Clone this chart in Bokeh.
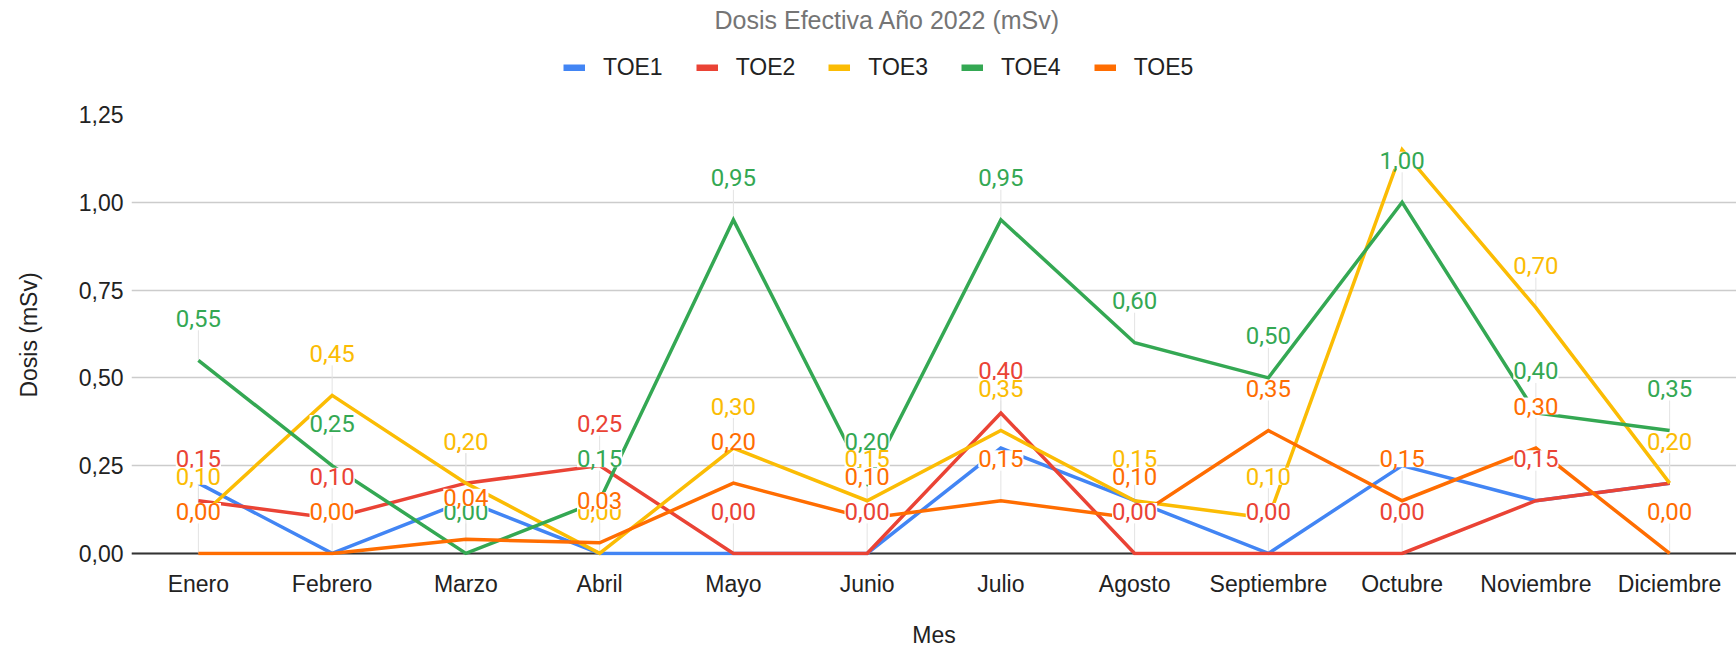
import math
from bokeh.plotting import figure
from bokeh.layouts import column
from bokeh.models import (FactorRange, Range1d, FixedTicker, CustomJSTickFormatter,
                          Legend, LegendItem, Span, ColumnDataSource, Label)
from bokeh.core.properties import value
from bokeh.embed import file_html
from bokeh.resources import INLINE

title_text = "Dosis Efectiva Año 2022 (mSv)"
x_label = "Mes"
y_label = "Dosis (mSv)"

months = ["Enero", "Febrero", "Marzo", "Abril", "Mayo", "Junio", "Julio",
          "Agosto", "Septiembre", "Octubre", "Noviembre", "Diciembre"]

toe1 = [0.20, 0.00, 0.15, 0.00, 0.00, 0.00, 0.30, 0.15, 0.00, 0.25, 0.15, 0.20]
toe2 = [0.15, 0.10, 0.20, 0.25, 0.00, 0.00, 0.40, 0.00, 0.00, 0.00, 0.15, 0.20]
toe3 = [0.10, 0.45, 0.20, 0.00, 0.30, 0.15, 0.35, 0.15, 0.10, 1.15, 0.70, 0.20]
toe4 = [0.55, 0.25, 0.00, 0.15, 0.95, 0.20, 0.95, 0.60, 0.50, 1.00, 0.40, 0.35]
toe5 = [0.00, 0.00, 0.04, 0.03, 0.20, 0.10, 0.15, 0.10, 0.35, 0.15, 0.30, 0.00]

series_names = ["TOE1", "TOE2", "TOE3", "TOE4", "TOE5"]
series_values = [toe1, toe2, toe3, toe4, toe5]
colors = ["#4285F4", "#EA4335", "#FBBC04", "#34A853", "#FF6D01"]
has_labels = [False, True, True, True, True]
hidden_labels = [("TOE3", "Octubre")]

y_ticks = [0.0, 0.25, 0.50, 0.75, 1.00, 1.25]

AXIS_FONT = "Liberation Sans"
LABEL_FONT = "Roboto"
TEXT_COLOR = "#222222"

LEFT = 131
FRAME_W = 1605
HEAD_H = 98
FRAME_H = 441
TOP_GAP = 16
BOTTOM = 92

# ---------------- header: title + legend ----------------
head = figure(frame_width=FRAME_W, frame_height=HEAD_H,
              x_range=Range1d(0, 1), y_range=Range1d(0, 1),
              x_axis_location=None, y_axis_location=None,
              min_border_left=LEFT, min_border_right=0,
              min_border_top=0, min_border_bottom=0,
              output_backend="svg", toolbar_location=None,
              background_fill_color="white", border_fill_color="white",
              outline_line_color=None)
head.grid.visible = False

head.add_layout(Label(x=583, y=HEAD_H - 19, x_units="screen", y_units="screen",
                      text=title_text, text_align="left", text_baseline="middle",
                      text_font=AXIS_FONT, text_font_size="25px",
                      text_color="#757575"))

items = []
for name, c in zip(series_names, colors):
    r = head.line(x=[-1], y=[-1], line_color=c, line_width=7, line_cap="butt")
    items.append(LegendItem(label=name, renderers=[r]))

legend = Legend(items=items, orientation="horizontal",
                location=(432, HEAD_H - 81),
                padding=0, margin=0, spacing=33, glyph_width=22, glyph_height=7,
                label_standoff=18, label_text_font=AXIS_FONT,
                label_text_font_size="23px", label_text_color=TEXT_COLOR,
                border_line_color=None, background_fill_alpha=0)
head.add_layout(legend)

# ---------------- main chart ----------------
p = figure(x_range=FactorRange(*months, range_padding=0),
           y_range=Range1d(-0.006, 1.25),
           frame_width=FRAME_W, frame_height=FRAME_H,
           min_border_left=LEFT, min_border_right=0,
           min_border_top=TOP_GAP, min_border_bottom=BOTTOM,
           output_backend="svg", toolbar_location=None,
           background_fill_color="white", border_fill_color="white",
           outline_line_color=None)

for ax in (p.xaxis[0], p.yaxis[0]):
    ax.axis_line_color = None
    ax.major_tick_line_color = None
    ax.minor_tick_line_color = None
    ax.major_label_text_font = AXIS_FONT
    ax.major_label_text_font_size = "23px"
    ax.major_label_text_color = TEXT_COLOR
    ax.axis_label_text_font = AXIS_FONT
    ax.axis_label_text_font_size = "23px"
    ax.axis_label_text_font_style = "normal"
    ax.axis_label_text_color = TEXT_COLOR

p.xaxis.axis_label = x_label
p.xaxis.major_label_standoff = 9
p.xaxis.axis_label_standoff = 22

p.yaxis.axis_label = y_label
p.yaxis.ticker = FixedTicker(ticks=y_ticks)
p.yaxis.formatter = CustomJSTickFormatter(code="return tick.toFixed(2).replace('.', ',');")
p.yaxis.major_label_standoff = 2
p.yaxis.axis_label_standoff = 34

p.xgrid.grid_line_color = None
p.ygrid.grid_line_color = "#cccccc"
p.ygrid.grid_line_width = 1.5

p.add_layout(Span(location=0, dimension="width", line_color="#333333",
                  line_width=2, level="underlay"))

# annotation stems
for name, vals, lab in zip(series_names, series_values, has_labels):
    if not lab:
        continue
    keep = [i for i, m in enumerate(months) if (name, m) not in hidden_labels]
    src = ColumnDataSource(dict(x=[months[i] for i in keep], y=[vals[i] for i in keep]))
    p.ray(x="x", y="y", length=30, angle=math.pi / 2, length_units="screen",
          line_color="#e3e3e3", line_width=1, source=src)

# lines
for name, vals, c in zip(series_names, series_values, colors):
    p.line(x=months, y=vals, line_color=c, line_width=3.5, line_join="miter")

# data labels
for name, vals, c, lab in zip(series_names, series_values, colors, has_labels):
    if not lab:
        continue
    keep = [i for i, m in enumerate(months) if (name, m) not in hidden_labels]
    src = ColumnDataSource(dict(
        x=[months[i] for i in keep],
        y=[vals[i] for i in keep],
        t=[f"{vals[i]:.2f}".replace(".", ",") for i in keep]))
    p.text(x="x", y="y", text="t", source=src, y_offset=-42,
           text_align="center", text_baseline="middle",
           text_font=value(LABEL_FONT), text_font_size="24px", text_color=c,
           background_fill_color="white", padding=0)

layout = column(head, p, spacing=0)
open("out.html", "w").write(file_html(layout, INLINE))
